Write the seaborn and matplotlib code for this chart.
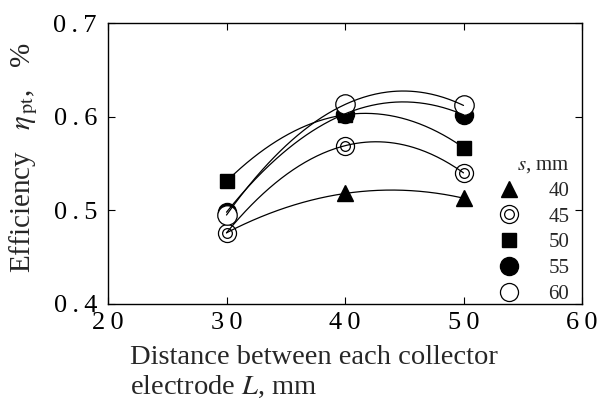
import numpy as np
import pandas as pd
import matplotlib
matplotlib.use("Agg")
import matplotlib.pyplot as plt
import seaborn as sns
from matplotlib.lines import Line2D

# ---- data ----
L_mm = [30, 40, 50]
s_labels = ["40", "45", "50", "55", "60"]
eta_40 = [0.476, 0.518, 0.513]
eta_45 = [0.476, 0.569, 0.540]
eta_50 = [0.531, 0.602, 0.567]
eta_55 = [0.498, 0.603, 0.602]
eta_60 = [0.495, 0.613, 0.612]
x_ticks = [20, 30, 40, 50, 60]
y_ticks = [0.4, 0.5, 0.6, 0.7]
x_ticklabels = ["2\u20090", "3\u20090", "4\u20090", "5\u20090", "6\u20090"]
y_ticklabels = ["0\u2009.\u20094", "0\u2009.\u20095", "0\u2009.\u20096", "0\u2009.\u20097"]

sns.set_style("ticks")
plt.rcParams["font.family"] = ["Liberation Serif", "DejaVu Serif"]
plt.rcParams["mathtext.fontset"] = "stix"

fig = plt.figure(figsize=(5.98, 4.01), dpi=100)
ax = fig.add_axes([108 / 598, 1 - 304 / 401, 474 / 598, 281 / 401])

series = [eta_40, eta_45, eta_50, eta_55, eta_60]

# smooth quadratic curves through the three points
xs = np.linspace(L_mm[0], L_mm[-1], 200)
rows = []
for lab, ys in zip(s_labels, series):
    c = np.polyfit(L_mm, ys, 2)
    for xv in xs:
        rows.append({"L": xv, "eta": np.polyval(c, xv), "s": lab})
curves = pd.DataFrame(rows)
sns.lineplot(data=curves, x="L", y="eta", units="s", estimator=None,
             color="black", lw=0.9, ax=ax, zorder=5, legend=False)

ms = 12
# 40: triangle (first point hidden in the original)
ax.plot(L_mm[1:], eta_40[1:], ls="none", marker="^", ms=ms, mfc="black", mec="black", zorder=3)
# 50: square
ax.plot(L_mm, eta_50, ls="none", marker="s", ms=ms - 2, mfc="black", mec="black", zorder=3)
# 55: filled circle
ax.plot(L_mm, eta_55, ls="none", marker="o", ms=ms + 1, mfc="black", mec="black", zorder=3)
# 45: double circle
ax.plot(L_mm, eta_45, ls="none", marker="o", ms=ms + 1, mfc="white", mec="black", mew=0.9, zorder=4)
ax.plot(L_mm, eta_45, ls="none", marker="o", ms=ms - 5, mfc="white", mec="black", mew=0.9, zorder=4)
# 60: open circle
ax.plot(L_mm, eta_60, ls="none", marker="o", ms=ms + 2, mfc="white", mec="black", mew=0.9, zorder=4)

ax.set_xlim(20, 60)
ax.set_ylim(0.4, 0.7)
ax.set_xticks(x_ticks)
ax.set_xticklabels(x_ticklabels)
ax.set_yticks(y_ticks)
ax.set_yticklabels(y_ticklabels)
ax.tick_params(direction="in", length=5, width=0.8, labelsize=19, top=True, right=True,
               color="black", labelcolor="black")
ax.tick_params(axis="x", pad=6)
ax.tick_params(axis="y", pad=8)
for sp in ax.spines.values():
    sp.set_visible(True)
    sp.set_linewidth(1.0)
    sp.set_color("black")
ax.set_xlabel("")
ax.set_ylabel("")

# legend
h40 = Line2D([], [], ls="none", marker="^", ms=ms, mfc="black", mec="black")
h45a = Line2D([], [], ls="none", marker="o", ms=ms + 1, mfc="white", mec="black", mew=0.9)
h45b = Line2D([], [], ls="none", marker="o", ms=ms - 5, mfc="white", mec="black", mew=0.9)
h50 = Line2D([], [], ls="none", marker="s", ms=ms - 2, mfc="black", mec="black")
h55 = Line2D([], [], ls="none", marker="o", ms=ms + 1, mfc="black", mec="black")
h60 = Line2D([], [], ls="none", marker="o", ms=ms + 1, mfc="white", mec="black", mew=0.9)
leg = ax.legend([h40, (h45a, h45b), h50, h55, h60], s_labels,
                title=r"$s$, mm", loc="lower right", bbox_to_anchor=(1.0, -0.045),
                frameon=False, fontsize=15, title_fontsize=15,
                handletextpad=0.9, labelspacing=0.3, borderaxespad=0.2)
leg._legend_box.align = "right"

# axis labels
fig.text(130 / 598, 1 - 364 / 401, "Distance between each collector",
         fontsize=20.5, ha="left", va="baseline")
fig.text(130 / 598, 1 - 394 / 401, r"electrode $L$, mm",
         fontsize=20.5, ha="left", va="baseline")
fig.text(24 / 598, 1 - 158 / 401, r"Efficiency   $\eta_{\,\rm pt}$,   %",
         fontsize=21, rotation=90, ha="center", va="center")

fig.savefig("out.png", dpi=100)
